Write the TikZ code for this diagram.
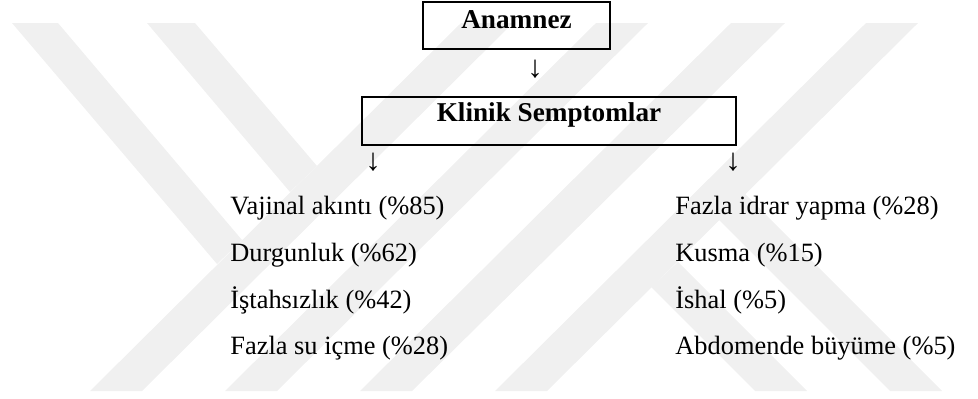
\documentclass[tikz,border=0pt]{standalone}
\usepackage{fontspec}
\setmainfont{Liberation Serif}
\begin{document}
\begin{tikzpicture}[x=0.5pt,y=-0.5pt,
        every node/.style={font=\fontsize{13.2}{15}\selectfont,inner sep=0pt},
        wm/.style={fill=black!6},
        box/.style={draw,line width=1.1pt,font=\fontsize{13.6}{16}\selectfont\bfseries},
        arrowglyph/.style={font=\fontsize{15.5}{18}\selectfont},
        item/.style={anchor=base west}]
            \useasboundingbox (0,0) rectangle (978,398);
            % watermark stripes
            \fill[wm] (461,23) -- (513,23) -- (142,391) -- (90,391) -- cycle;
            \fill[wm] (596,23) -- (648,23) -- (277,391) -- (225,391) -- cycle;
            \fill[wm] (731,23) -- (785,23) -- (412,391) -- (360,391) -- cycle;
            \fill[wm] (866,23) -- (918,23) -- (547,391) -- (495,391) -- cycle;
            \fill[wm] (12,23) -- (58,23) -- (242,240) -- (217,264) -- cycle;
            \fill[wm] (147,23) -- (195,23) -- (317,166) -- (290,192) -- cycle;
            \fill[wm] (890,391) -- (942,391) -- (745,194) -- (719,220) -- cycle;
            \fill[wm] (755,391) -- (807,391) -- (678,262) -- (651,287) -- cycle;
            % boxes
            \node (anamnez) at (516.5,25.5) [box,minimum width=93.5pt,minimum height=23.5pt,text height=9pt,text depth=6.4pt] {Anamnez};
            \node (klinik) at (549,121) [box,minimum width=187pt,minimum height=24pt,text height=9pt,text depth=9pt] {Klinik Semptomlar};
            \node (arrow1) at (535,69) [arrowglyph] {↓};
            \node (arrow2) at (373,162) [arrowglyph] {↓};
            \node (arrow3) at (733,162) [arrowglyph] {↓};
            % symptoms
            \node (left1) at (230,214) [item] {Vajinal akıntı (\%85)};
            \node (left2) at (230,261) [item] {Durgunluk (\%62)};
            \node (left3) at (230,308) [item] {İştahsızlık (\%42)};
            \node (left4) at (230,354) [item] {Fazla su içme (\%28)};
            \node (right1) at (675,214) [item] {Fazla idrar yapma (\%28)};
            \node (right2) at (675,261) [item] {Kusma (\%15)};
            \node (right3) at (675,308) [item] {İshal (\%5)};
            \node (right4) at (675,354) [item] {Abdomende büyüme (\%5)};
        \end{tikzpicture}
\end{document}
